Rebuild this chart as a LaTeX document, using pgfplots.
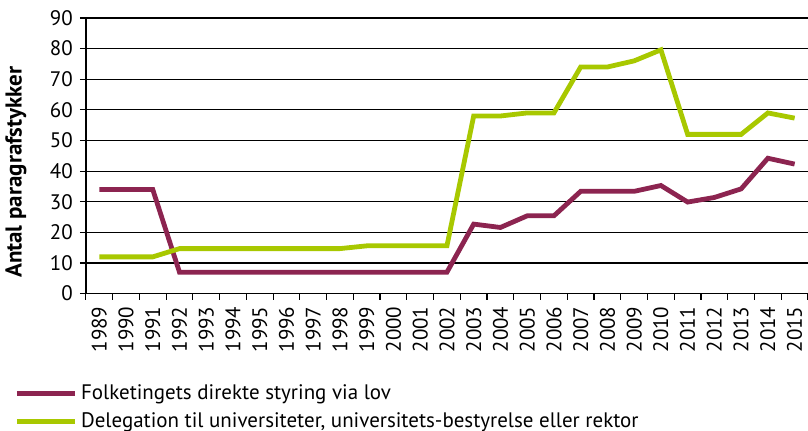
\documentclass[border=0pt]{standalone}
\usepackage{fontspec}
\setmainfont{PT Sans}
\usepackage{pgfplots}
\pgfplotsset{compat=1.18}
\definecolor{lovpurple}{RGB}{140,36,80}
\definecolor{delgreen}{RGB}{168,200,0}
\begin{document}
\begin{tikzpicture}
\useasboundingbox (-43pt,-68.5pt) rectangle (361.5pt,147pt);
\begin{axis}[
    scale only axis,
    width=361.5pt, height=138pt,
    xmin=-0.5, xmax=26.5,
    ymin=0, ymax=90,
    ytick={0,10,...,90},
    xtick={0,...,26},
    xticklabels={1989,1990,1991,1992,1993,1994,1995,1996,1997,1998,1999,2000,2001,2002,2003,2004,2005,2006,2007,2008,2009,2010,2011,2012,2013,2014,2015},
    minor xtick={-0.5,0.5,...,26.5},
    major x tick style={draw=none},
    minor tick length=3pt,
    major tick length=3pt,
    tick align=outside,
    tick style={black, line width=0.6pt},
    axis x line*=bottom,
    axis y line*=left,
    axis line style={black, line width=0.8pt, -},
    ymajorgrids,
    grid style={black, line width=0.6pt},
    x tick label style={rotate=90, anchor=east, font=\fontsize{10.5}{12}\selectfont},
    y tick label style={font=\fontsize{10.5}{12}\selectfont},
    /pgf/number format/assume math mode=true,
    ylabel={\textbf{Antal paragrafstykker}},
    ylabel style={at={(axis description cs:-0.097,0.44)}, rotate=0, anchor=center, font=\fontsize{11.5}{13}\selectfont},
    legend style={at={(axis description cs:-0.0996,-0.315)}, anchor=north west, draw=none, fill=none,
        font=\fontsize{10.5}{12}\selectfont, row sep=1pt, inner sep=0pt},
    legend cell align=left,
    legend image code/.code={\draw[#1, line width=2.4pt] (0pt,0pt) -- (29pt,0pt);},
    clip=false,
]
\addplot[lovpurple, line width=2.4pt] coordinates {
(0,34) (1,34) (2,34) (3,7) (4,7) (5,7) (6,7) (7,7) (8,7) (9,7) (10,7) (11,7) (12,7) (13,7)
(14,22.7) (15,21.6) (16,25.4) (17,25.4) (18,33.4) (19,33.4) (20,33.4) (21,35.3) (22,29.9)
(23,31.4) (24,34.2) (25,44.2) (26,42.3)
};
\addlegendentry{Folketingets direkte styring via lov}
\addplot[delgreen, line width=2.4pt] coordinates {
(0,12) (1,12) (2,12) (3,14.7) (4,14.7) (5,14.7) (6,14.7) (7,14.7) (8,14.7) (9,14.7)
(10,15.6) (11,15.6) (12,15.6) (13,15.6)
(14,58) (15,58) (16,59) (17,59) (18,74) (19,74) (20,76) (21,79.6) (22,52) (23,52)
(24,52) (25,59) (26,57.3)
};
\addlegendentry{Delegation til universiteter, universitets-bestyrelse eller rektor}
\end{axis}
\end{tikzpicture}
\end{document}
